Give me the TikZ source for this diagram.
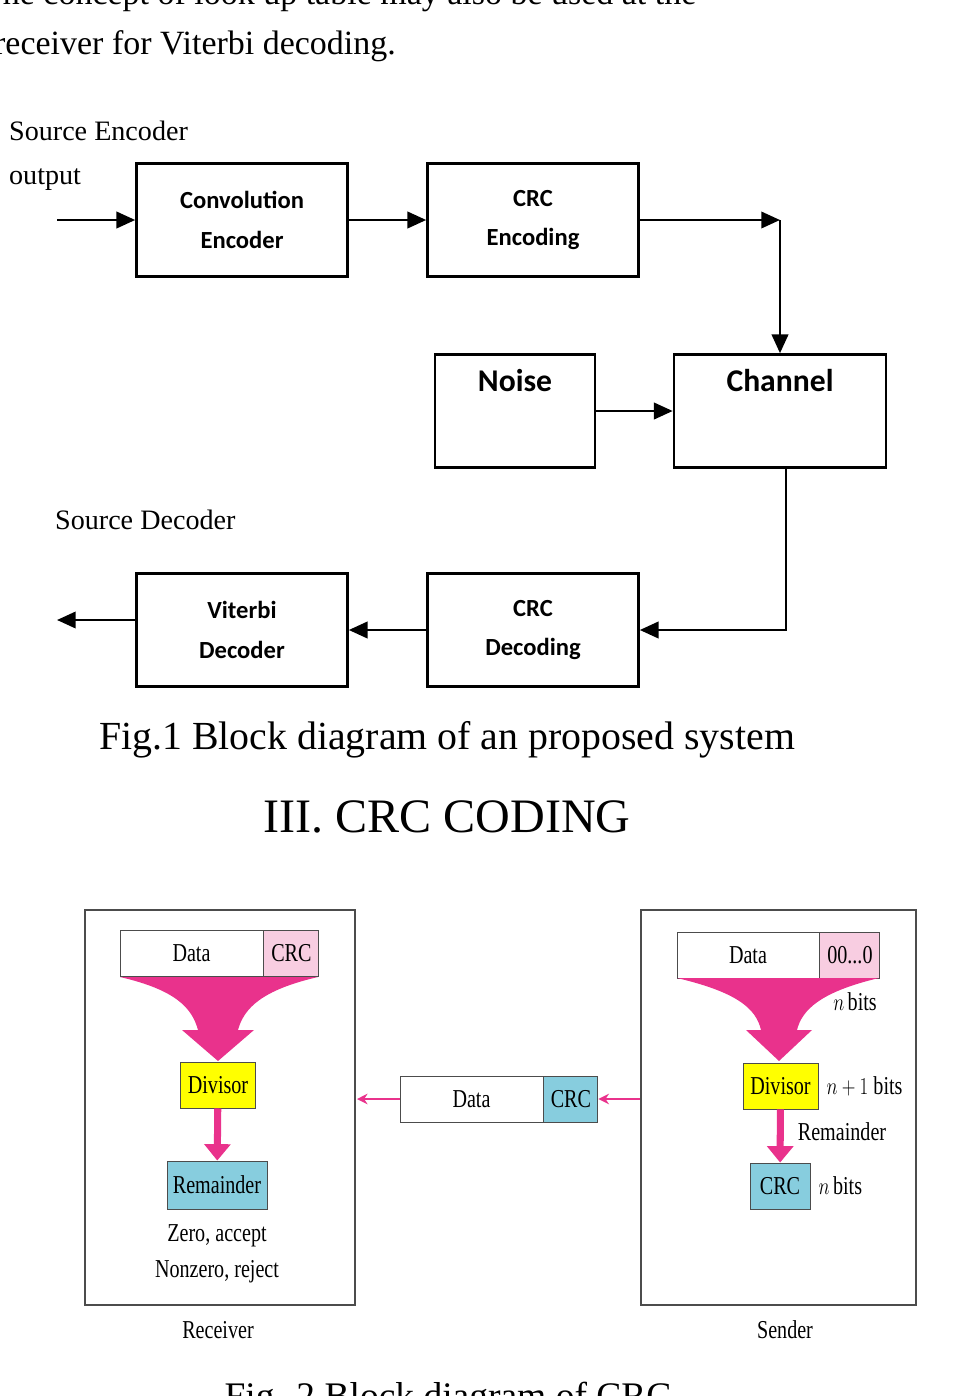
\documentclass[tikz,border=0pt]{standalone}
\usepackage{fontspec}
\setmainfont{Liberation Serif}
\newfontfamily\boxfont{Carlito}
\usetikzlibrary{arrows.meta}
\usetikzlibrary{positioning}
\definecolor{crcpink}{RGB}{233,50,140}
\definecolor{lightpink}{RGB}{248,205,225}
\definecolor{crcblue}{RGB}{135,205,222}
\definecolor{crcyellow}{RGB}{255,255,0}
\newlength{\xu}\setlength{\xu}{0.03cm}
\newcommand{\nar}[1]{\scalebox{0.78}[1]{#1}}
\tikzset{
  blk/.style={draw,line width=2.2pt,minimum width=211\xu,minimum height=113\xu,
    align=center,font=\boxfont\bfseries\fontsize{21}{34}\selectfont},
  bigtxt/.style={anchor=north,yshift=-12\xu,font=\boxfont\bfseries\fontsize{27}{30}\selectfont},
  flow/.style={line width=2.2pt,-{Triangle[length=16pt,width=14pt]}},
  cell/.style={draw=black!70,line width=0.8pt,minimum height=46\xu,inner sep=0pt,
    font=\fontsize{22}{24}\selectfont},
  pinkflow/.style={crcpink,line width=1.6pt,-{Stealth[length=9pt,width=9pt]}},
  frame/.style={draw=black!70,line width=1pt},
  note/.style={font=\fontsize{22}{24}\selectfont}
}
\begin{document}
\begin{tikzpicture}[x=0.03cm,y=-0.03cm]
	\useasboundingbox (0,0) rectangle (968,1396);
	\clip (0,0) rectangle (968,1396);

	% running text
	\node[anchor=base west,font=\fontsize{29}{34}\selectfont] at (-22,4) {The concept of look up table may also be used at the};
	\node[anchor=base west,font=\fontsize{29}{34}\selectfont] at (-10,54) {receiver for Viterbi decoding.};

	% Fig. 1
	\node[anchor=base west,font=\fontsize{24}{28}\selectfont] at (5,140) {Source Encoder};
	\node[anchor=base west,font=\fontsize{24}{28}\selectfont] at (5,184) {output};
	\node[anchor=base west,font=\fontsize{24}{28}\selectfont] at (51,529) {Source Decoder};

	\node[blk] (conv) at (242,220) {Convolution\\Encoder};
	\node[blk] (crcenc) at (533,220) {CRC\\Encoding};
	\node[blk,minimum width=212\xu] (chan) at (780,411) {};
	\node[bigtxt] at (chan.north) {Channel};
	\node[blk,minimum width=160\xu] (noise) at (515,411) {};
	\node[bigtxt] at (noise.north) {Noise};
	\node[blk] (crcdec) at (533,630) {CRC\\Decoding};
	\node[blk] (vit) at (242,630) {Viterbi\\Decoder};

	\coordinate (in) at (57,220);
	\coordinate (out) at (57,620);
	\draw[flow] (in) -- (conv.west);
	\draw[flow] (conv) -- (crcenc);
	\draw[flow] (crcenc.east) -- (780,220);
	\draw[flow] (780,220) -- (chan.north);
	\draw[flow] (noise) -- (chan);
	\draw[flow] (chan.south -| 786,0) |- (crcdec.east);
	\draw[flow] (crcdec) -- (vit);
	\draw[flow] (vit.west |- out) -- (out);

	\node[font=\fontsize{34}{38}\selectfont] at (447,740) {Fig.1 Block diagram of an proposed system};
	\node[font=\fontsize{41}{44}\selectfont] at (447,817) {III. CRC CODING};

	% Fig. 2, receiver
	\draw[frame] (85,910) rectangle (355,1305);
	\node[cell,fill=white,minimum width=143\xu] (rdata) at (191.5,953) {\nar{Data}};
	\node[cell,fill=lightpink,minimum width=55\xu,right=0pt of rdata] (rcrc) {\nar{CRC}};
	\fill[crcpink] (120,977) -- (318,977) .. controls (262,990) and (244,1008) .. (238,1030)
	  -- (254,1030) -- (218,1061) -- (182,1030) -- (198,1030)
	  .. controls (192,1008) and (176,990) .. (120,977);
	\node[cell,fill=crcyellow,minimum width=75\xu] (rdiv) at (218,1085) {\nar{Divisor}};
	\node[cell,fill=crcblue,minimum width=100\xu,minimum height=48\xu] (rrem) at (217,1185) {\nar{Remainder}};
	\draw[crcpink,line width=6pt,-{Triangle[length=14pt,width=22pt]}] (rdiv) -- (rrem);
	\node[note] at (217,1236) {\nar{Zero, accept}};
	\node[note] at (217,1272) {\nar{Nonzero, reject}};
	\node[note] at (218,1330) {\nar{Receiver}};

	% Fig. 2, channel
	\node[cell,fill=white,minimum width=143\xu] (mdata) at (471.5,1099) {\nar{Data}};
	\node[cell,fill=crcblue,minimum width=54\xu,right=0pt of mdata] (mcrc) {\nar{CRC}};
	\coordinate (rin) at (357,1099);
	\coordinate (sout) at (640,1099);
	\draw[pinkflow] (sout) -- (mcrc.east);
	\draw[pinkflow] (mdata.west) -- (rin);

	% Fig. 2, sender
	\draw[frame] (641,910) rectangle (916,1305);
	\node[cell,fill=white,minimum width=142\xu] (sdata) at (748,955) {\nar{Data}};
	\node[cell,fill=lightpink,minimum width=60\xu,right=0pt of sdata] (szero) {\nar{00...0}};
	\fill[crcpink] (677,978) -- (879,978) .. controls (820,992) and (802,1010) .. (797,1030)
	  -- (812,1030) -- (779,1061) -- (746,1030) -- (761,1030)
	  .. controls (756,1008) and (736,992) .. (677,978);
	\node[note] at (855,1002) {\nar{$n$\,bits}};
	\node[cell,fill=crcyellow,minimum width=75\xu] (sdiv) at (780.5,1086) {\nar{Divisor}};
	\node[note,right=4\xu of sdiv] {\nar{$n+1$ bits}};
	\node[cell,fill=crcblue,minimum width=60\xu] (scrc) at (780,1186) {\nar{CRC}};
	\node[note,right=4\xu of scrc] {\nar{$n$\,bits}};
	\draw[crcpink,line width=6pt,-{Triangle[length=14pt,width=22pt]}] (sdiv) -- (scrc);
	\node[note] at (842,1132) {\nar{Remainder}};
	\node[note] at (785,1330) {\nar{Sender}};

	\node[anchor=base,font=\fontsize{32}{36}\selectfont] at (448,1408) {Fig. 2 Block diagram of CRC};
\end{tikzpicture}
\end{document}
